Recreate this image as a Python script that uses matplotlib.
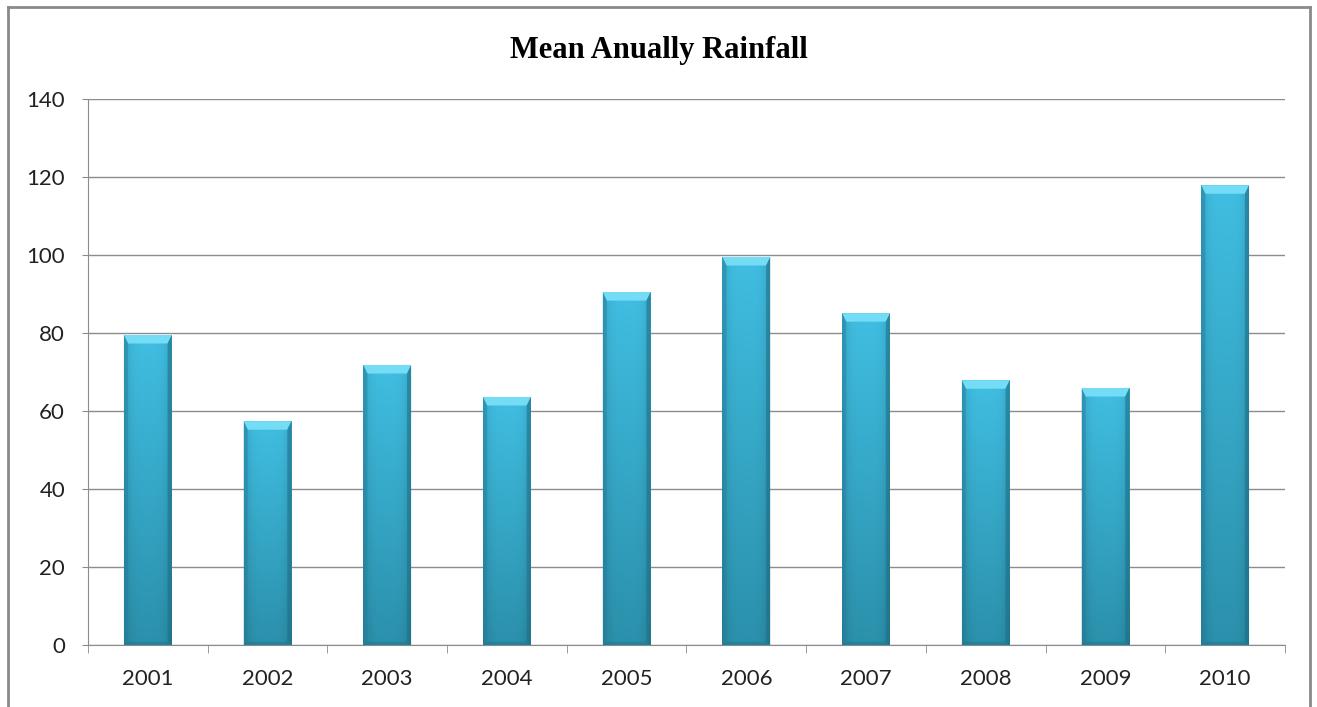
import numpy as np
import matplotlib
matplotlib.use("Agg")
import matplotlib.pyplot as plt
from matplotlib.patches import Polygon
from matplotlib.lines import Line2D

years = ["2001", "2002", "2003", "2004", "2005", "2006", "2007", "2008", "2009", "2010"]
rainfall = [79.5, 57.4, 71.8, 63.6, 90.5, 99.5, 85.1, 67.9, 65.9, 117.9]
y_ticks = [0, 20, 40, 60, 80, 100, 120, 140]

fig = plt.figure(figsize=(13.17, 7.07), dpi=100)
fig.patch.set_facecolor("white")
ax = fig.add_axes([0.0668, 0.0877, 0.9089, 0.7723])
ax.set_facecolor("white")

x = np.arange(len(years))
bar_w = 0.4
bars = ax.bar(x, rainfall, width=bar_w, color="none", edgecolor="none", zorder=3)

# body shading: lighter at top, darker at bottom, a bit darker at the sides
top_c = np.array([0x40, 0xbe, 0xe2]) / 255.0
bot_c = np.array([0x2b, 0x90, 0xab]) / 255.0
cols = np.linspace(-1, 1, 60)
side = 1 - 0.15 * np.abs(cols) ** 4
bev = 2.2      # bevel height in data units (~8 px)
inset = 0.035  # bevel inset in data units
for rect, val in zip(bars, rainfall):
    rows = np.linspace(1, 0, 200)[:, None, None]
    base = bot_c + (top_c - bot_c) * rows
    img = np.clip(base * side[None, :, None], 0, 1)
    im = ax.imshow(img, extent=[rect.get_x(), rect.get_x() + bar_w, 0, val],
                   aspect="auto", zorder=3, interpolation="bilinear")
    im.set_clip_path(rect)
    x0, x1 = rect.get_x(), rect.get_x() + bar_w
    # top bevel (light)
    ax.add_patch(Polygon([[x0, val], [x1, val], [x1 - inset, val - bev], [x0 + inset, val - bev]],
                         closed=True, facecolor="#74dcf4", edgecolor="none", zorder=4))
    # side bevels (darker)
    ax.add_patch(Polygon([[x0, val], [x0 + inset, val - bev], [x0 + inset, 0.8], [x0, 0]],
                         closed=True, facecolor="#2580a0", edgecolor="none", alpha=0.45, zorder=4))
    ax.add_patch(Polygon([[x1, val], [x1 - inset, val - bev], [x1 - inset, 0.8], [x1, 0]],
                         closed=True, facecolor="#1d6f88", edgecolor="none", alpha=0.55, zorder=4))
    # bottom bevel
    ax.add_patch(Polygon([[x0, 0], [x1, 0], [x1 - inset, 0.8], [x0 + inset, 0.8]],
                         closed=True, facecolor="#217a93", edgecolor="none", alpha=0.6, zorder=4))

ax.set_xlim(-0.5, len(years) - 0.5)
ax.set_ylim(0, 140)
ax.set_yticks(y_ticks)
ax.set_yticklabels([str(t) for t in y_ticks])
ax.set_xticks(x)
ax.set_xticklabels(years)
ax.set_xticks(np.arange(-0.5, len(years)), minor=True)

ax.yaxis.grid(True, color="#8c8c8c", linewidth=1.0, zorder=0)
ax.set_axisbelow(True)
for s in ["top", "right"]:
    ax.spines[s].set_visible(False)
ax.spines["left"].set_color("#8c8c8c")
ax.spines["bottom"].set_color("#8c8c8c")

ax.tick_params(axis="y", length=4.5, color="#8c8c8c", labelsize=16, pad=12, labelcolor="#222222")
ax.tick_params(axis="x", which="major", length=0, labelsize=16, pad=17, labelcolor="#222222")
ax.tick_params(axis="x", which="minor", length=5.5, color="#8c8c8c", direction="out")
for lbl in ax.get_xticklabels() + ax.get_yticklabels():
    lbl.set_family(["Lato", "DejaVu Sans"])

fig.text(0.5, 0.929, "Mean Anually Rainfall", ha="center", va="center",
         fontsize=22, fontweight="bold", family=["Liberation Serif", "DejaVu Serif"])

# chart frame (bottom cut off)
frame_kw = dict(color="#8a8a8a", linewidth=2, transform=fig.transFigure)
fig.add_artist(Line2D([0.0057, 0.0057], [0.0, 0.99], **frame_kw))
fig.add_artist(Line2D([0.0057, 0.9947], [0.99, 0.99], **frame_kw))
fig.add_artist(Line2D([0.9947, 0.9947], [0.0, 0.99], **frame_kw))

fig.savefig("out.png", dpi=100, facecolor="white")
